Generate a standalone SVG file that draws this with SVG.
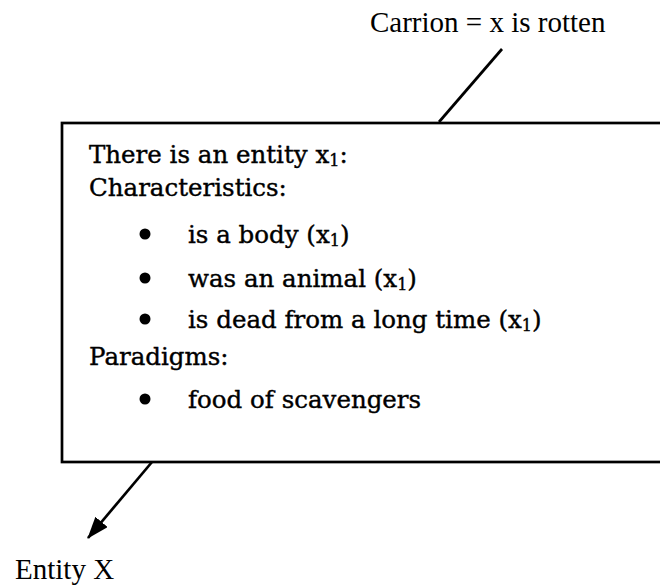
<svg xmlns="http://www.w3.org/2000/svg" width="660" height="585" viewBox="0 0 660 585">
<defs>
<style>
.lbl{font-family:"Liberation Serif","Times New Roman",serif;font-size:29px;fill:#000}
.box{font-family:"DejaVu Serif","Liberation Serif",serif;font-size:24.5px;fill:#000;stroke:#000;stroke-width:0.4}
.sub{font-size:16px}
.ln{stroke:#000;stroke-width:2.7;fill:none}
</style>
<marker id="ah2" viewBox="0 0 22 16" refX="21" refY="8" markerWidth="22" markerHeight="16" orient="auto" markerUnits="userSpaceOnUse">
<path d="M0,0 L22,8 L0,16 Z" fill="#000"/>
</marker>
</defs>
<rect width="660" height="585" fill="#fff"/>
<g id="connectors">
<line class="ln" x1="439" y1="122" x2="502" y2="49"/>
<line class="ln" x1="152" y1="462" x2="88" y2="538" marker-end="url(#ah2)"/>
</g>
<g id="node-carrion">
<text class="lbl" x="370" y="32">Carrion = x is rotten</text>
</g>
<g id="node-entity-box">
<rect class="ln" x="62" y="123" width="620" height="339" fill="#fff"/>
<text class="box" x="89" y="163">There is an entity x<tspan class="sub" dy="3">1</tspan><tspan dy="-3">:</tspan></text>
<text class="box" x="89" y="196">Characteristics:</text>
<circle cx="145" cy="234" r="5.5"/>
<text class="box" x="188" y="243">is a body (x<tspan class="sub" dy="3">1</tspan><tspan dy="-3">)</tspan></text>
<circle cx="145" cy="278" r="5.5"/>
<text class="box" x="188" y="287">was an animal (x<tspan class="sub" dy="3">1</tspan><tspan dy="-3">)</tspan></text>
<circle cx="145" cy="319" r="5.5"/>
<text class="box" x="188" y="328">is dead from a long time (x<tspan class="sub" dy="3">1</tspan><tspan dy="-3">)</tspan></text>
<text class="box" x="89" y="365">Paradigms:</text>
<circle cx="145" cy="399" r="5.5"/>
<text class="box" x="188" y="408">food of scavengers</text>
</g>
<g id="node-entity-x">
<text class="lbl" x="15" y="579">Entity X</text>
</g>
</svg>
